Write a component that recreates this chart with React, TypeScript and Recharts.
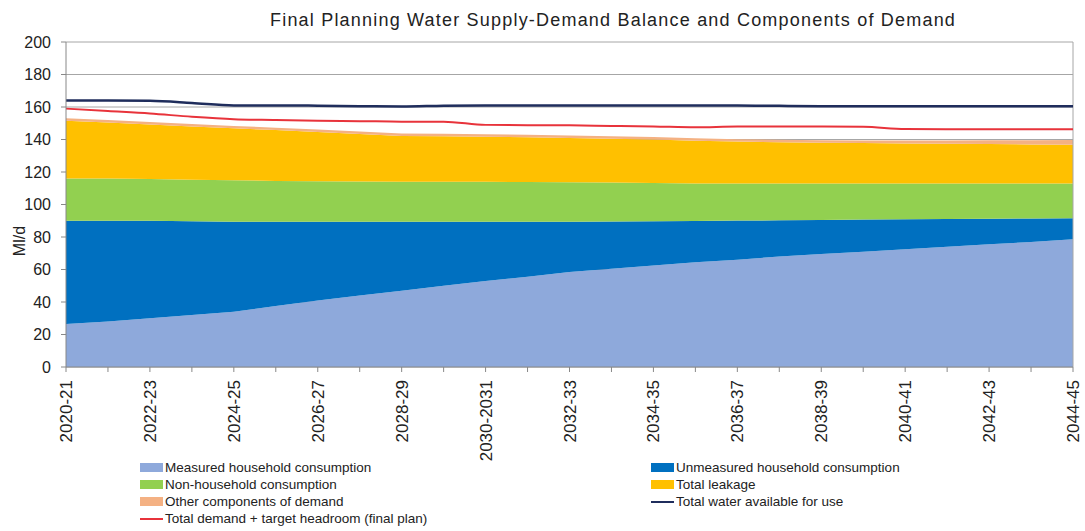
import React from 'react';
import { ComposedChart, Area, Line, XAxis, YAxis, CartesianGrid, ReferenceLine } from 'recharts';

const categories = [
  '2020-21', '2021-22', '2022-23', '2023-24', '2024-25', '2025-26', '2026-27', '2027-28', '2028-29', '2029-30',
  '2030-2031', '2031-32', '2032-33', '2033-34', '2034-35', '2035-36', '2036-37', '2037-38', '2038-39', '2039-40',
  '2040-41', '2041-42', '2042-43', '2043-44', '2044-45',
];

const measured = [26.5, 28, 30, 32, 34, 37.5, 41, 44, 47, 50, 53, 55.5, 58.5, 60.5, 62.5, 64.5, 66, 68, 69.5, 71, 72.5, 74, 75.5, 77, 78.6];
const unmeasured = [63.5, 62, 60, 57.7, 55.4, 51.9, 48.4, 45.4, 42.4, 39.4, 36.4, 33.9, 30.9, 29, 27.2, 25.4, 24.1, 22.3, 21, 19.7, 18.4, 17.1, 15.8, 14.4, 12.9];
const nonHousehold = [26, 26, 25.7, 25.6, 25.6, 25.1, 24.9, 24.8, 24.6, 24.6, 24.6, 24.4, 24.3, 24, 23.6, 23.1, 22.9, 22.7, 22.5, 22.3, 22.1, 21.9, 21.7, 21.6, 21.5];
const leakage = [35.6, 34.5, 33.6, 32.7, 31.9, 31.3, 30.3, 29.2, 28.2, 28, 27.7, 27.6, 27.3, 27, 26.7, 26.2, 25.7, 25.3, 25, 24.8, 24.6, 24.4, 24.2, 24, 23.8];
const otherComponents = [1.5, 1.5, 1.5, 1.5, 1.4, 1.5, 1.5, 1.5, 1.5, 1.5, 1.5, 1.5, 1.5, 1.5, 1.5, 1.5, 1.5, 1.5, 1.5, 1.6, 1.8, 2.0, 2.3, 2.6, 2.9];
const totalAvailable = [164, 164, 163.8, 162.5, 161, 161, 160.8, 160.5, 160.3, 160.8, 161, 161, 161, 161, 161, 161, 161, 160.7, 160.5, 160.5, 160.5, 160.5, 160.5, 160.5, 160.5];
const totalDemandHeadroom = [159, 157.5, 156, 154, 152.5, 152, 151.5, 151.3, 151, 151, 149, 148.8, 148.7, 148.3, 148, 147.5, 148, 148, 148, 147.8, 146.5, 146.3, 146.3, 146.3, 146.3];

const yTicks = [0, 20, 40, 60, 80, 100, 120, 140, 160, 180, 200];

const data = categories.map((c, i) => ({
  cat: c,
  measured: measured[i],
  unmeasured: unmeasured[i],
  nonHousehold: nonHousehold[i],
  leakage: leakage[i],
  other: otherComponents[i],
  available: totalAvailable[i],
  demand: totalDemandHeadroom[i],
}));

const C = {
  measured: '#8EA9DB',
  unmeasured: '#0070C0',
  nonHousehold: '#92D050',
  leakage: '#FFC000',
  other: '#F4B183',
  available: '#1F2D5C',
  demand: '#E8333B',
};

const FONT = '"Liberation Sans", Arial, sans-serif';

const XTick = (props: any) => {
  const { x, y, payload, index } = props;
  if (index % 2 !== 0) return <g />;
  return (
    <text
      transform={`translate(${x + 6},${y + 6}) rotate(-90)`}
      textAnchor="end"
      fontSize={17}
      fontFamily={FONT}
      fill="#222"
    >
      {payload.value}
    </text>
  );
};

const legendLeft = [
  { label: 'Measured household consumption', color: C.measured, kind: 'area' },
  { label: 'Non-household consumption', color: C.nonHousehold, kind: 'area' },
  { label: 'Other components of demand', color: C.other, kind: 'area' },
  { label: 'Total demand + target headroom (final plan)', color: C.demand, kind: 'line' },
];
const legendRight = [
  { label: 'Unmeasured household consumption', color: C.unmeasured, kind: 'area' },
  { label: 'Total leakage', color: C.leakage, kind: 'area' },
  { label: 'Total water available for use', color: C.available, kind: 'line' },
];

const LegendItem = ({ item, left, top }: any) => (
  <div style={{ position: 'absolute', left, top, display: 'flex', alignItems: 'center', height: 17, whiteSpace: 'nowrap' }}>
    <div
      style={{
        width: 23,
        height: item.kind === 'area' ? 9 : 2,
        background: item.color,
        marginRight: 2,
      }}
    />
    <span style={{ fontSize: 13.5, fontFamily: FONT, color: '#222' }}>{item.label}</span>
  </div>
);

export default function App() {
  return (
    <div style={{ position: 'relative', width: 1085, height: 531, background: '#fff', fontFamily: FONT }}>
      <style>{`body{margin:0;}`}</style>
      <div
        style={{
          position: 'absolute',
          left: 270,
          top: 10,
          fontSize: 18,
          letterSpacing: 1.2,
          whiteSpace: 'nowrap',
          color: '#222',
          fontFamily: FONT,
        }}
      >
        Final Planning Water Supply-Demand Balance and Components of Demand
      </div>
      <div
        style={{
          position: 'absolute',
          left: 0,
          top: 232,
          width: 40,
          textAlign: 'center',
          transform: 'rotate(-90deg)',
          fontSize: 16,
          color: '#222',
          fontFamily: FONT,
        }}
      >
        Ml/d
      </div>
      <ComposedChart
        width={1085}
        height={531}
        data={data}
        margin={{ top: 42, right: 12, bottom: 64, left: 0 }}
      >
        <CartesianGrid vertical={false} stroke="#a6a6a6" />
        <XAxis
          dataKey="cat"
          interval={0}
          height={100}
          tick={<XTick />}
          tickSize={5}
          axisLine={{ stroke: '#888' }}
          tickLine={{ stroke: '#888' }}
        />
        <YAxis
          width={66}
          domain={[0, 200]}
          ticks={yTicks}
          interval={0}
          tickSize={5}
          tickMargin={10}
          axisLine={{ stroke: '#888' }}
          tickLine={{ stroke: '#888' }}
          tick={{ fontSize: 16, fontFamily: FONT, fill: '#222' }}
        />
        <ReferenceLine x="2044-45" stroke="#a6a6a6" />
        <Area type="linear" dataKey="measured" stackId="d" fill={C.measured} fillOpacity={1} stroke="none" isAnimationActive={false} />
        <Area type="linear" dataKey="unmeasured" stackId="d" fill={C.unmeasured} fillOpacity={1} stroke="none" isAnimationActive={false} />
        <Area type="linear" dataKey="nonHousehold" stackId="d" fill={C.nonHousehold} fillOpacity={1} stroke="none" isAnimationActive={false} />
        <Area type="linear" dataKey="leakage" stackId="d" fill={C.leakage} fillOpacity={1} stroke="none" isAnimationActive={false} />
        <Area type="linear" dataKey="other" stackId="d" fill={C.other} fillOpacity={1} stroke="none" isAnimationActive={false} />
        <Line type="monotone" dataKey="available" stroke={C.available} strokeWidth={2.5} dot={false} isAnimationActive={false} />
        <Line type="monotone" dataKey="demand" stroke={C.demand} strokeWidth={2} dot={false} isAnimationActive={false} />
      </ComposedChart>
      {legendLeft.map((it, i) => (
        <LegendItem key={it.label} item={it} left={140} top={459 + i * 17} />
      ))}
      {legendRight.map((it, i) => (
        <LegendItem key={it.label} item={it} left={651} top={459 + i * 17} />
      ))}
    </div>
  );
}
